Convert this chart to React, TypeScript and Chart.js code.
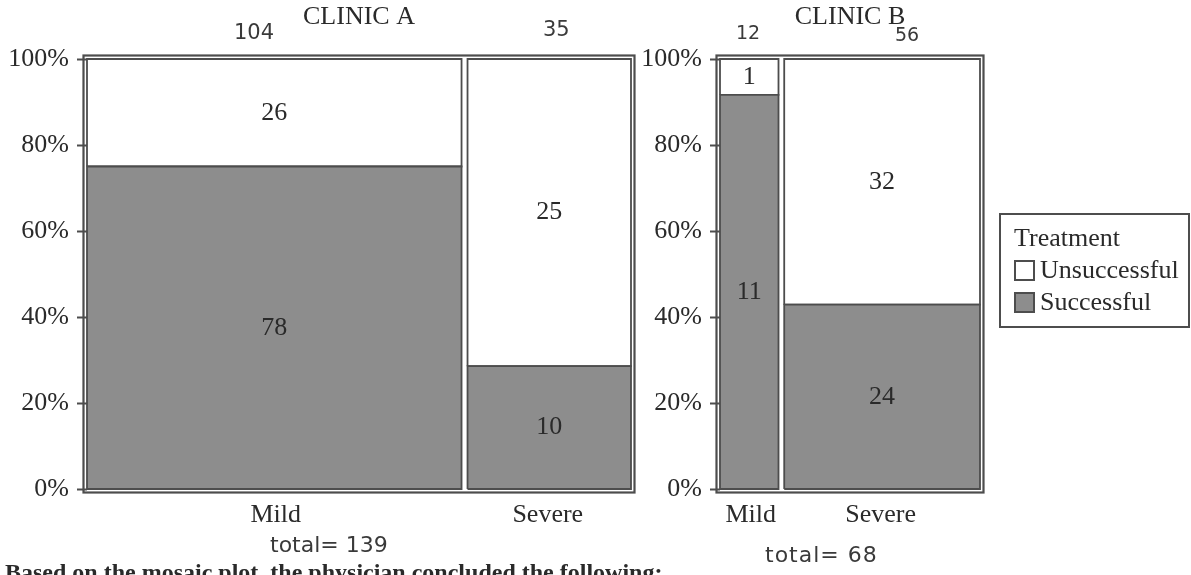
import React, { useEffect, useRef } from "react";
import { Chart, registerables } from "chart.js";

Chart.register(...registerables);

// ---------- data ----------
const severityLevels = ["Mild", "Severe"];
const treatmentLevels = ["Unsuccessful", "Successful"];
const clinicTitles = ["CLINIC A", "CLINIC B"];

const successfulA = [78, 10];
const unsuccessfulA = [26, 25];
const successfulB = [11, 24];
const unsuccessfulB = [1, 32];

// column widths (share of each clinic's plot width)
const columnShareA = [0.694, 0.306];
const columnShareB = [0.236, 0.764];

const yTickValues = [0, 20, 40, 60, 80, 100];

// handwritten notes on the scan
const handColumnTotalsA = ["104", "35"];
const handColumnTotalsB = ["12", "56"];
const handGrandTotalA = "total= 139";
const handGrandTotalB = "total= 68";
const footnoteText = "Based on the mosaic plot, the physician concluded the following:";

// ---------- style ----------
const SERIF = "'Liberation Serif', 'Times New Roman', serif";
const HAND = "'DejaVu Sans', sans-serif";
const INK = "#2a2a2a";
const EDGE = "#4d4d4d";
const GRAY = "#8d8d8d";
const WHITE = "#ffffff";
const FONT_SIZE = 26;

type Cell = {
  x0: number;
  x1: number;
  y0: number;
  y1: number;
  fill: string;
  count: number;
};

function buildCells(success: number[], unsuccess: number[], shares: number[], gap: number): Cell[] {
  const cells: Cell[] = [];
  let cum = 0;
  shares.forEach((s, i) => {
    const x0 = cum + (i > 0 ? gap / 2 : 0);
    const x1 = cum + s - (i < shares.length - 1 ? gap / 2 : 0);
    cum += s;
    const n = success[i] + unsuccess[i];
    const p = (success[i] / n) * 100;
    cells.push({ x0, x1, y0: 0, y1: p, fill: GRAY, count: success[i] });
    cells.push({ x0, x1, y0: p, y1: 100, fill: WHITE, count: unsuccess[i] });
  });
  return cells;
}

function columnCenters(shares: number[]): number[] {
  const out: number[] = [];
  let cum = 0;
  shares.forEach((s) => {
    out.push(cum + s / 2);
    cum += s;
  });
  return out;
}

const framePlugin = {
  id: "mosaicFrame",
  beforeDatasetsDraw(chart: any) {
    const { ctx, chartArea } = chart;
    const o = 3.5;
    ctx.save();
    ctx.strokeStyle = EDGE;
    ctx.lineWidth = 2.2;
    ctx.strokeRect(
      chartArea.left - o,
      chartArea.top - o,
      chartArea.right - chartArea.left + 2 * o,
      chartArea.bottom - chartArea.top + 2 * o
    );
    ctx.restore();
  },
};

const countLabelPlugin = {
  id: "countLabels",
  afterDatasetsDraw(chart: any) {
    const { ctx, scales } = chart;
    ctx.save();
    ctx.font = `${FONT_SIZE}px ${SERIF}`;
    ctx.fillStyle = INK;
    ctx.textAlign = "center";
    ctx.textBaseline = "middle";
    chart.data.datasets.forEach((ds: any) => {
      const c: Cell = ds.cell;
      const x = scales.x.getPixelForValue((c.x0 + c.x1) / 2);
      const y = scales.y.getPixelForValue((c.y0 + c.y1) / 2);
      ctx.fillText(String(c.count), x, y);
    });
    ctx.restore();
  },
};

type PanelProps = {
  title: string;
  success: number[];
  unsuccess: number[];
  shares: number[];
  gap: number;
  left: number;
  width: number;
  yAxisWidth: number;
  rightPad: number;
};

function MosaicPanel(props: PanelProps) {
  const ref = useRef<HTMLCanvasElement | null>(null);
  useEffect(() => {
    if (!ref.current) return;
    const cells = buildCells(props.success, props.unsuccess, props.shares, props.gap);
    const centers = columnCenters(props.shares);
    const datasets = cells.map((c) => ({
      cell: c,
      data: [
        { x: c.x0, y: c.y0 },
        { x: c.x1, y: c.y0 },
        { x: c.x1, y: c.y1 },
        { x: c.x0, y: c.y1 },
        { x: c.x0, y: c.y0 },
      ],
      showLine: true,
      fill: "shape",
      backgroundColor: c.fill,
      borderColor: EDGE,
      borderWidth: 1.8,
      pointRadius: 0,
      pointHoverRadius: 0,
      tension: 0,
      clip: false,
    }));
    const lineH = FONT_SIZE * 1.2;
    const chart = new Chart(ref.current, {
      type: "scatter",
      data: { datasets: datasets as any },
      plugins: [framePlugin, countLabelPlugin],
      options: {
        animation: false,
        responsive: false,
        events: [],
        layout: { padding: { left: 0, right: props.rightPad, top: 0, bottom: 46 } },
        plugins: {
          legend: { display: false },
          tooltip: { enabled: false },
          title: {
            display: true,
            text: props.title,
            fullSize: false,
            color: INK,
            font: { family: SERIF, size: FONT_SIZE, weight: "normal", lineHeight: 1.2 },
            padding: { top: 2, bottom: 59 - 2 - lineH },
          },
        },
        scales: {
          x: {
            type: "linear",
            min: 0,
            max: 1,
            grid: { display: false, drawTicks: false },
            border: { display: false },
            afterBuildTicks: (scale: any) => {
              scale.ticks = centers.map((v) => ({ value: v }));
            },
            afterFit: (scale: any) => {
              scale.height = 40;
            },
            ticks: {
              autoSkip: false,
              maxRotation: 0,
              padding: 11,
              color: INK,
              font: { family: SERIF, size: FONT_SIZE },
              callback: (_v: any, i: number) => severityLevels[i],
            },
          },
          y: {
            type: "linear",
            min: 0,
            max: 100,
            grid: {
              drawOnChartArea: false,
              drawTicks: true,
              tickLength: 10,
              tickWidth: 2,
              tickColor: EDGE,
            },
            border: { display: false },
            afterBuildTicks: (scale: any) => {
              scale.ticks = yTickValues.map((v) => ({ value: v }));
            },
            afterFit: (scale: any) => {
              scale.width = props.yAxisWidth;
            },
            ticks: {
              padding: 8,
              color: INK,
              font: { family: SERIF, size: FONT_SIZE },
              callback: (v: any) => `${v}%`,
            },
          },
        },
      } as any,
    });
    return () => chart.destroy();
  }, []);
  return (
    <canvas
      ref={ref}
      width={props.width}
      height={575}
      style={{ position: "absolute", left: props.left, top: 0, width: props.width, height: 575 }}
    />
  );
}

const handStyle: React.CSSProperties = {
  position: "absolute",
  fontFamily: HAND,
  fontWeight: 400,
  fontSize: 21,
  color: "#3a3a3a",
  whiteSpace: "nowrap",
  lineHeight: "24px",
};

export default function App() {
  return (
    <div
      style={{
        position: "absolute",
        left: 0,
        top: 0,
        width: 1191,
        height: 575,
        overflow: "hidden",
        background: "#fff",
      }}
    >
      <MosaicPanel
        title={clinicTitles[0]}
        success={successfulA}
        unsuccess={unsuccessfulA}
        shares={columnShareA}
        gap={0.011}
        left={0}
        width={640}
        yAxisWidth={87}
        rightPad={9}
      />
      <MosaicPanel
        title={clinicTitles[1]}
        success={successfulB}
        unsuccess={unsuccessfulB}
        shares={columnShareB}
        gap={0.022}
        left={640}
        width={360}
        yAxisWidth={80}
        rightPad={20}
      />

      {/* handwritten notes */}
      <div style={{ ...handStyle, left: 234, top: 20 }}>{handColumnTotalsA[0]}</div>
      <div style={{ ...handStyle, left: 543, top: 17 }}>{handColumnTotalsA[1]}</div>
      <div style={{ ...handStyle, left: 736, top: 20, fontSize: 19 }}>{handColumnTotalsB[0]}</div>
      <div style={{ ...handStyle, left: 895, top: 22, fontSize: 19 }}>{handColumnTotalsB[1]}</div>
      <div style={{ ...handStyle, left: 270, top: 533, fontSize: 22 }}>{handGrandTotalA}</div>
      <div style={{ ...handStyle, left: 765, top: 543, fontSize: 22, letterSpacing: 1 }}>
        {handGrandTotalB}
      </div>

      {/* legend */}
      <div
        style={{
          position: "absolute",
          left: 999,
          top: 213,
          width: 191,
          height: 115,
          border: `2px solid ${EDGE}`,
          fontFamily: SERIF,
          fontSize: FONT_SIZE,
          color: INK,
          paddingLeft: 13,
          paddingTop: 7,
          boxSizing: "border-box",
          overflow: "hidden",
          whiteSpace: "nowrap",
        }}
      >
        <div style={{ lineHeight: "32px" }}>Treatment</div>
        {treatmentLevels.map((t, i) => (
          <div key={t} style={{ display: "flex", alignItems: "center", lineHeight: "32px" }}>
            <span
              style={{
                display: "inline-block",
                flex: "0 0 auto",
                width: 17,
                height: 17,
                border: `2px solid ${EDGE}`,
                background: i === 0 ? WHITE : GRAY,
                marginRight: 5,
              }}
            />
            <span>{t}</span>
          </div>
        ))}
      </div>

      {/* footnote (cut off by page edge) */}
      <div
        style={{
          position: "absolute",
          left: 5,
          top: 560,
          fontFamily: SERIF,
          fontWeight: "bold",
          fontSize: 24,
          lineHeight: "24px",
          color: INK,
          whiteSpace: "nowrap",
        }}
      >
        {footnoteText}
      </div>
    </div>
  );
}
